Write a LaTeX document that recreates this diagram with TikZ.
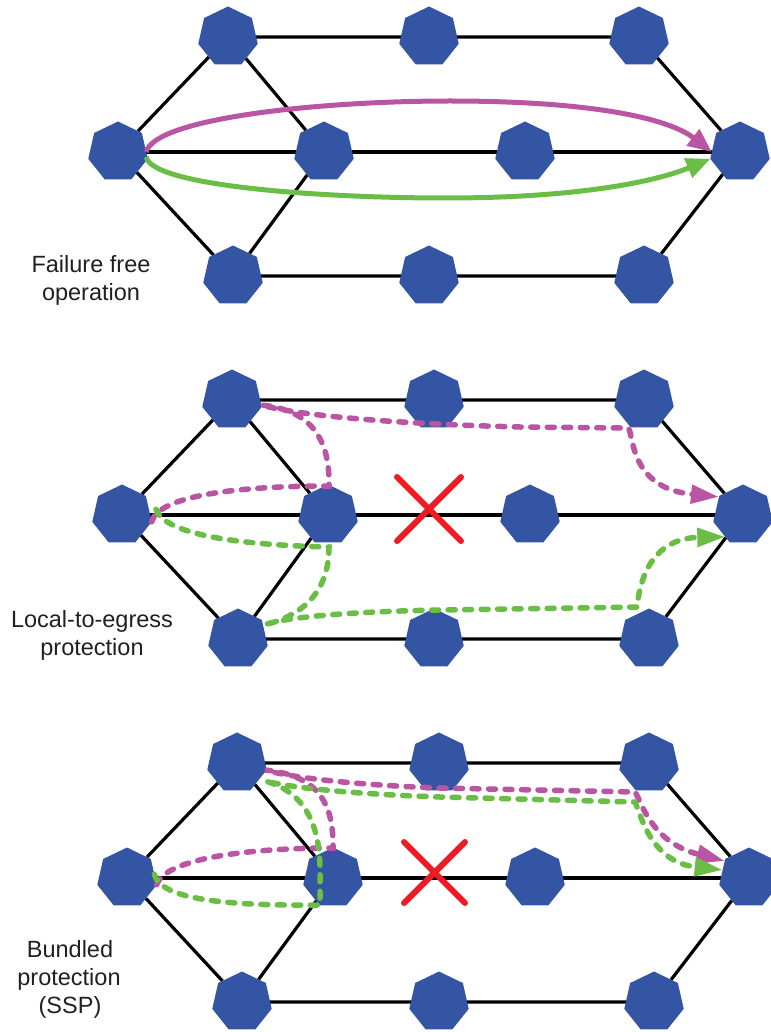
\documentclass[tikz,border=0pt]{standalone}
\usepackage{fontspec}
\setmainfont{Liberation Sans}
\usetikzlibrary{shapes.geometric,arrows.meta}
\definecolor{nodeblue}{HTML}{3455A4}
\definecolor{pathmag}{HTML}{B955A3}
\definecolor{pathgreen}{HTML}{6ABD45}
\definecolor{xred}{HTML}{ED1C24}
\definecolor{labelgray}{HTML}{231F20}
\pgfdeclarelayer{bg}
\pgfsetlayers{bg,main}
\tikzset{
  router/.style={regular polygon, regular polygon sides=7, minimum size=61pt,
    inner sep=0pt, outer sep=0pt, fill=nodeblue, draw=none},
  link/.style={line width=3.2pt, black},
  magsolid/.style={line width=5pt, pathmag, -{Triangle[length=24pt,width=20pt]}},
  greensolid/.style={line width=5pt, pathgreen, -{Triangle[length=24pt,width=20pt]}},
  magdash/.style={line width=5.5pt, pathmag, line cap=round, dash pattern=on 7pt off 9.5pt,
    -{Triangle[length=28pt,width=18pt]}},
  greendash/.style={line width=5.5pt, pathgreen, line cap=round, dash pattern=on 7pt off 9.5pt,
    -{Triangle[length=28pt,width=18pt]}},
  failx/.style={line width=6pt, xred, line cap=round},
  lbl/.style={font=\fontsize{23.5}{28}\selectfont, text=labelgray, anchor=base, inner sep=0pt},
}
\begin{document}
\begin{tikzpicture}[x=1pt,y=-1pt]
\useasboundingbox (0,0) rectangle (770,1032);

% ---------- Panel 1 ----------
\node[router] (p1-tl) at (228,37) {};
\node[router] (p1-tm) at (429,37) {};
\node[router] (p1-tr) at (639,37) {};
\node[router] (p1-l)  at (118,152) {};
\node[router] (p1-m2) at (324,152) {};
\node[router] (p1-m3) at (525,152) {};
\node[router] (p1-r)  at (740,152) {};
\node[router] (p1-bl) at (233,276) {};
\node[router] (p1-bm) at (429,276) {};
\node[router] (p1-br) at (644,276) {};

% ---------- Panel 2 ----------
\node[router] (p2-tl) at (232,400) {};
\node[router] (p2-tm) at (434,400) {};
\node[router] (p2-tr) at (644,400) {};
\node[router] (p2-l)  at (122,515) {};
\node[router] (p2-m2) at (328,515) {};
\node[router] (p2-m3) at (530,515) {};
\node[router] (p2-r)  at (743,515) {};
\node[router] (p2-bl) at (238,639) {};
\node[router] (p2-bm) at (434,639) {};
\node[router] (p2-br) at (649,639) {};

% ---------- Panel 3 ----------
\node[router] (p3-tl) at (237,763) {};
\node[router] (p3-tm) at (439,763) {};
\node[router] (p3-tr) at (649,763) {};
\node[router] (p3-l)  at (127,878) {};
\node[router] (p3-m2) at (333,878) {};
\node[router] (p3-m3) at (535,878) {};
\node[router] (p3-r)  at (749,878) {};
\node[router] (p3-bl) at (242,1002) {};
\node[router] (p3-bm) at (439,1002) {};
\node[router] (p3-br) at (654,1002) {};

% ---------- links (behind routers) ----------
\begin{pgfonlayer}{bg}
\foreach \p in {1,2,3} {
  \draw[link] (p\p-tl) -- (p\p-tm) -- (p\p-tr) -- (p\p-r) -- (p\p-br) -- (p\p-bm) -- (p\p-bl) -- (p\p-l) -- (p\p-tl) -- (p\p-m2) -- (p\p-bl);
  \draw[link] (p\p-l) -- (p\p-m2) -- (p\p-m3) -- (p\p-r);
}
\end{pgfonlayer}

% ---------- Panel 1 paths ----------
\draw[magsolid] (p1-l.east) .. controls (155,118) and (320,101) .. (450,101)
  .. controls (590,101) and (668,118) .. (p1-r.west);
\draw[greensolid] ([yshift=-5pt]p1-l.east) .. controls (152,186) and (320,198) .. (446,198)
  .. controls (575,198) and (655,182) .. (p1-r.193);

% ---------- Panel 2 paths ----------
\draw[magdash] (p2-l.-13) .. controls (158,497) and (230,486) .. (329,486)
  .. controls (330,440) and (312,410) .. (261,405)
  .. controls (300,416) and (400,424) .. (520,427) -- (628,428)
  .. controls (634,432) and (628,488) .. (p2-r.143);
\draw[greendash] ([xshift=7pt]p2-l.12) .. controls (165,535) and (240,545) .. (329,547)
  .. controls (329,590) and (305,615) .. (264,625)
  .. controls (290,615) and (380,611) .. (440,610) -- (637,607)
  .. controls (642,560) and (665,538) .. (p2-r.231);
\draw[failx] (397,477) -- (461,541) (461,477) -- (397,541);

% ---------- Panel 3 paths ----------
\draw[magdash] (p3-l.-13) .. controls (165,858) and (250,848) .. (333,848)
  .. controls (334,800) and (315,775) .. (265,770)
  .. controls (300,780) and (380,786) .. (440,788) -- (635,792)
  .. controls (641,800) and (650,842) .. (p3-r.145);
\draw[greendash] (p3-l.8) .. controls (160,900) and (230,906) .. (320,905) -- (320,870)
  .. controls (320,825) and (305,792) .. (265,781)
  .. controls (300,790) and (380,795) .. (440,797) -- (635,802)
  .. controls (640,812) and (650,862) .. (p3-r.163);
\draw[failx] (404,842) -- (465,903) (465,842) -- (404,903);

% ---------- labels ----------
\node[lbl] (t1a) at (91,272) {Failure free};
\node[lbl] (t1b) at (91,300) {operation};
\node[lbl] (t2a) at (92,627) {Local-to-egress};
\node[lbl] (t2b) at (92,655) {protection};
\node[lbl] (t3a) at (70,957) {Bundled};
\node[lbl] (t3b) at (69,985) {protection};
\node[lbl] (t3c) at (70,1013) {(SSP)};
\end{tikzpicture}
\end{document}
